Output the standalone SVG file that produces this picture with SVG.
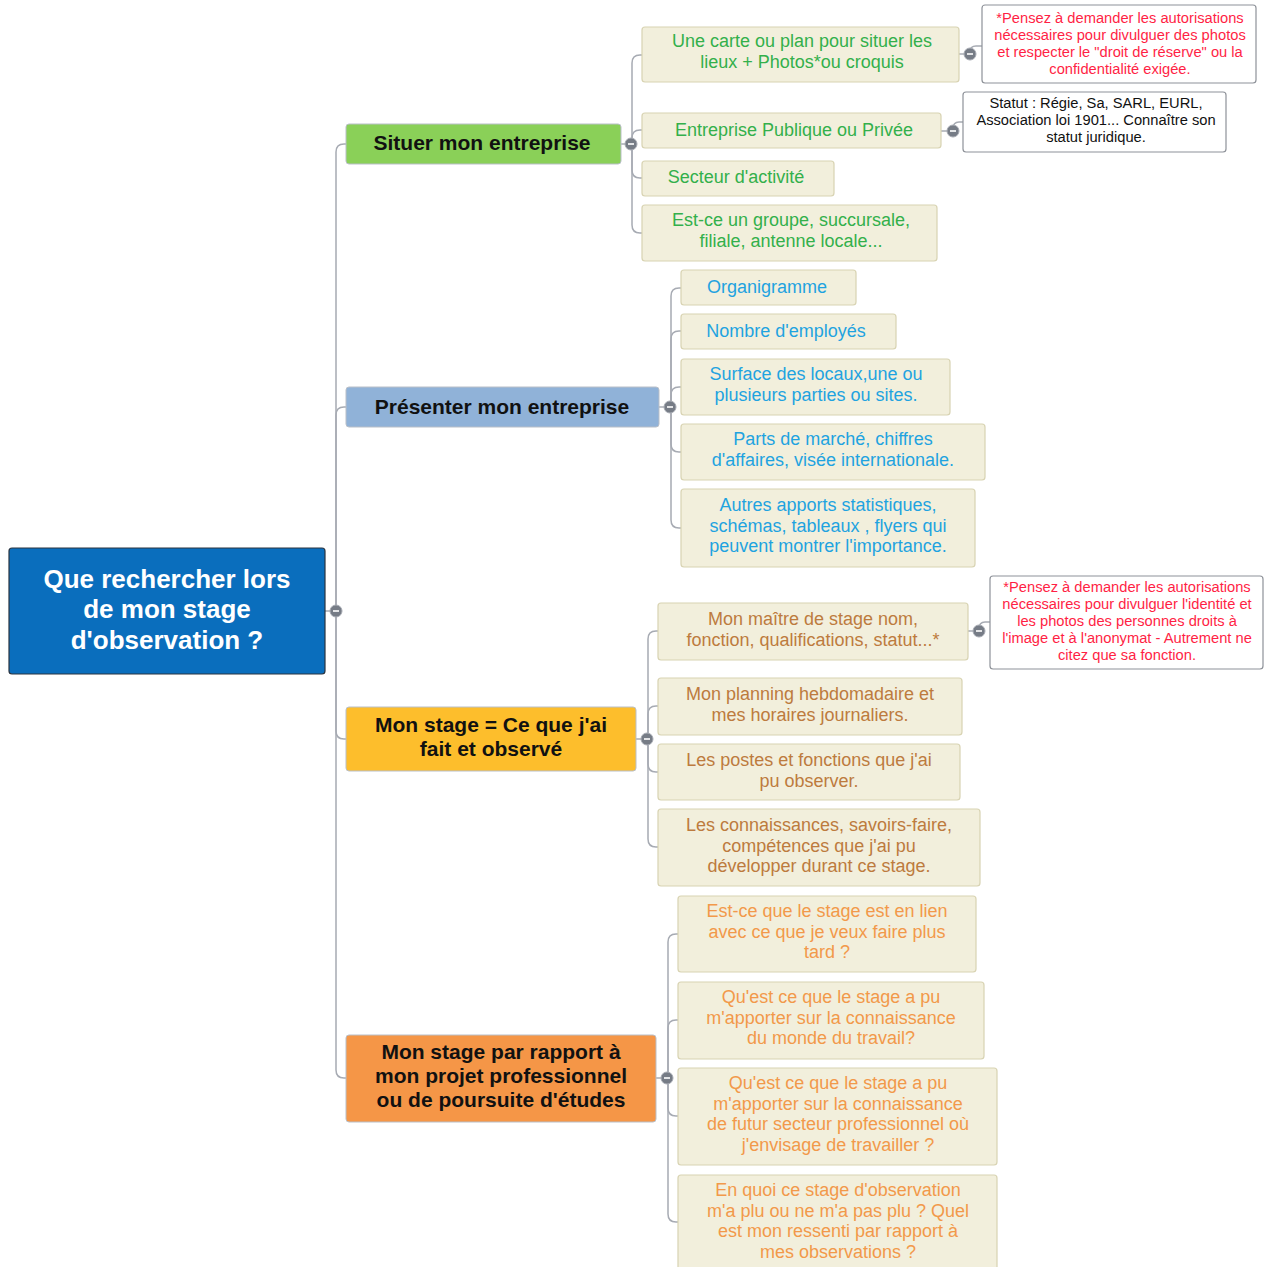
<svg xmlns="http://www.w3.org/2000/svg" width="1268" height="1267" viewBox="0 0 1268 1267">
<style>
.bg{fill:#ffffff}
.conn path{fill:none;stroke:#A7ABB3;stroke-width:1.5}
.tog circle{fill:#767C86;stroke:#A7ABB3;stroke-width:1}
.tog line{stroke:#ffffff;stroke-width:1.6}
.root rect{fill:#0A6EBD;stroke:#2A3440;stroke-width:1.2}
.main rect{stroke:#B9BFC8;stroke-width:1}
.sub rect{fill:#F2EFDC;stroke:#D8D3B2;stroke-width:1.2}
.note rect{fill:#ffffff;stroke:#8E9299;stroke-width:1.2}
text{font-family:"Liberation Sans",Arial,sans-serif;text-anchor:middle}
.rt{fill:#ffffff;font-weight:bold;font-size:26px}
.mt{fill:#111111;font-weight:bold;font-size:21px}
.st{font-size:18px}
.g{fill:#33B04B}
.b{fill:#1FA3E0}
.br{fill:#BD7B3E}
.o{fill:#F2994A}
.nt{font-size:14.7px}
.red{fill:#FF1F45}
.blk{fill:#111111}
</style>
<rect class="bg" x="0" y="0" width="1268" height="1267"/>

<g id="connectors" class="conn">
<!-- root to main -->
<path d="M325,611 H336"/>
<path d="M336,611 V152 Q336,144 344,144 H346"/>
<path d="M336,611 V415 Q336,407 344,407 H346"/>
<path d="M336,611 V731 Q336,739 344,739 H346"/>
<path d="M336,611 V1070 Q336,1078 344,1078 H346"/>
<!-- Situer -->
<path d="M621,144 H632"/>
<path d="M632,144 V63 Q632,55 640,55 H642"/>
<path d="M632,144 V138 Q632,130 640,130 H642"/>
<path d="M632,144 V170 Q632,178 640,178 H642"/>
<path d="M632,144 V225 Q632,233 640,233 H642"/>
<path d="M959,54 H970"/>
<path d="M970,54 V52 Q970,46 976,46 H982"/>
<path d="M941,131 H953"/>
<path d="M953,131 V129 Q953,122 959,122 H963"/>
<!-- Présenter -->
<path d="M659,407 H671"/>
<path d="M671,407 V296 Q671,288 679,288 H681"/>
<path d="M671,407 V339 Q671,331 679,331 H681"/>
<path d="M671,407 V395 Q671,387 679,387 H681"/>
<path d="M671,407 V444 Q671,452 679,452 H681"/>
<path d="M671,407 V520 Q671,528 679,528 H681"/>
<!-- Mon stage -->
<path d="M636,739 H648"/>
<path d="M648,739 V639 Q648,631 656,631 H658"/>
<path d="M648,739 V714 Q648,706 656,706 H658"/>
<path d="M648,739 V764 Q648,772 656,772 H658"/>
<path d="M648,739 V839 Q648,847 656,847 H658"/>
<path d="M968,631 H979"/>
<path d="M979,631 V629 Q979,622 985,622 H990"/>
<!-- Mon stage par rapport -->
<path d="M656,1078 H668"/>
<path d="M668,1078 V942 Q668,934 676,934 H678"/>
<path d="M668,1078 V1028 Q668,1020 676,1020 H678"/>
<path d="M668,1078 V1108 Q668,1116 676,1116 H678"/>
<path d="M668,1078 V1214 Q668,1222 676,1222 H678"/>
</g>

<g id="root" class="root">
<rect x="9" y="548" width="316" height="126" rx="3"/>
<text class="rt" x="167" y="588">Que rechercher lors</text>
<text class="rt" x="167" y="618">de mon stage</text>
<text class="rt" x="167" y="649">d'observation ?</text>
</g>

<g id="situer" class="main">
<rect x="346" y="124" width="275" height="40" rx="3" fill="#8AD058"/>
<text class="mt" x="482" y="150">Situer mon entreprise</text>
</g>
<g id="presenter" class="main">
<rect x="346" y="387" width="313" height="40" rx="3" fill="#90B2D8"/>
<text class="mt" x="502" y="414">Présenter mon entreprise</text>
</g>
<g id="monstage" class="main">
<rect x="346" y="707" width="290" height="64" rx="3" fill="#FDBE2C"/>
<text class="mt" x="491" y="732">Mon stage = Ce que j'ai</text>
<text class="mt" x="491" y="756">fait et observé</text>
</g>
<g id="projet" class="main">
<rect x="346" y="1035" width="310" height="87" rx="3" fill="#F59647"/>
<text class="mt" x="501" y="1059">Mon stage par rapport à</text>
<text class="mt" x="501" y="1083">mon projet professionnel</text>
<text class="mt" x="501" y="1107">ou de poursuite d'études</text>
</g>

<!-- Situer children -->
<g id="carte" class="sub">
<rect x="642" y="27" width="317" height="55" rx="3"/>
<text class="st g" x="802" y="47">Une carte ou plan pour situer les</text>
<text class="st g" x="802" y="68">lieux + Photos*ou croquis</text>
</g>
<g id="note-photos" class="note">
<rect x="982" y="5" width="274" height="78" rx="3"/>
<text class="nt red" x="1120" y="23">*Pensez à demander les autorisations</text>
<text class="nt red" x="1120" y="40">nécessaires pour divulguer des photos</text>
<text class="nt red" x="1120" y="57">et respecter le "droit de réserve" ou la</text>
<text class="nt red" x="1120" y="74">confidentialité exigée.</text>
</g>
<g id="publique" class="sub">
<rect x="642" y="113" width="299" height="35" rx="3"/>
<text class="st g" x="794" y="136">Entreprise Publique ou Privée</text>
</g>
<g id="note-statut" class="note">
<rect x="963" y="92" width="263" height="60" rx="3"/>
<text class="nt blk" x="1096" y="108">Statut : Régie, Sa, SARL, EURL,</text>
<text class="nt blk" x="1096" y="125">Association loi 1901... Connaître son</text>
<text class="nt blk" x="1096" y="142">statut juridique.</text>
</g>
<g id="secteur" class="sub">
<rect x="642" y="161" width="192" height="35" rx="3"/>
<text class="st g" x="736" y="183">Secteur d'activité</text>
</g>
<g id="groupe" class="sub">
<rect x="642" y="205" width="295" height="56" rx="3"/>
<text class="st g" x="791" y="226">Est-ce un groupe, succursale,</text>
<text class="st g" x="791" y="247">filiale, antenne locale...</text>
</g>

<!-- Présenter children -->
<g id="organigramme" class="sub">
<rect x="681" y="270" width="175" height="35" rx="3"/>
<text class="st b" x="767" y="293">Organigramme</text>
</g>
<g id="employes" class="sub">
<rect x="681" y="314" width="215" height="35" rx="3"/>
<text class="st b" x="786" y="337">Nombre d'employés</text>
</g>
<g id="surface" class="sub">
<rect x="681" y="359" width="269" height="56" rx="3"/>
<text class="st b" x="816" y="380">Surface des locaux,une ou</text>
<text class="st b" x="816" y="401">plusieurs parties ou sites.</text>
</g>
<g id="parts" class="sub">
<rect x="681" y="424" width="304" height="56" rx="3"/>
<text class="st b" x="833" y="445">Parts de marché, chiffres</text>
<text class="st b" x="833" y="466">d'affaires, visée internationale.</text>
</g>
<g id="autres" class="sub">
<rect x="681" y="489" width="294" height="78" rx="3"/>
<text class="st b" x="828" y="511">Autres apports statistiques,</text>
<text class="st b" x="828" y="532">schémas, tableaux , flyers qui</text>
<text class="st b" x="828" y="552">peuvent montrer l'importance.</text>
</g>

<!-- Mon stage children -->
<g id="maitre" class="sub">
<rect x="658" y="603" width="310" height="57" rx="3"/>
<text class="st br" x="813" y="625">Mon maître de stage nom,</text>
<text class="st br" x="813" y="646">fonction, qualifications, statut...*</text>
</g>
<g id="note-identite" class="note">
<rect x="990" y="576" width="273" height="93" rx="3"/>
<text class="nt red" x="1127" y="592">*Pensez à demander les autorisations</text>
<text class="nt red" x="1127" y="609">nécessaires pour divulguer l'identité et</text>
<text class="nt red" x="1127" y="626">les photos des personnes droits à</text>
<text class="nt red" x="1127" y="643">l'image et à l'anonymat - Autrement ne</text>
<text class="nt red" x="1127" y="660">citez que sa fonction.</text>
</g>
<g id="planning" class="sub">
<rect x="658" y="678" width="304" height="57" rx="3"/>
<text class="st br" x="810" y="700">Mon planning hebdomadaire et</text>
<text class="st br" x="810" y="721">mes horaires journaliers.</text>
</g>
<g id="postes" class="sub">
<rect x="658" y="744" width="302" height="56" rx="3"/>
<text class="st br" x="809" y="766">Les postes et fonctions que j'ai</text>
<text class="st br" x="809" y="787">pu observer.</text>
</g>
<g id="connaissances" class="sub">
<rect x="658" y="809" width="322" height="77" rx="3"/>
<text class="st br" x="819" y="831">Les connaissances, savoirs-faire,</text>
<text class="st br" x="819" y="852">compétences que j'ai pu</text>
<text class="st br" x="819" y="872">développer durant ce stage.</text>
</g>

<!-- Projet children -->
<g id="lien" class="sub">
<rect x="678" y="896" width="298" height="76" rx="3"/>
<text class="st o" x="827" y="917">Est-ce que le stage est en lien</text>
<text class="st o" x="827" y="938">avec ce que je veux faire plus</text>
<text class="st o" x="827" y="958">tard ?</text>
</g>
<g id="monde" class="sub">
<rect x="678" y="982" width="306" height="77" rx="3"/>
<text class="st o" x="831" y="1003">Qu'est ce que le stage a pu</text>
<text class="st o" x="831" y="1024">m'apporter sur la connaissance</text>
<text class="st o" x="831" y="1044">du monde du travail?</text>
</g>
<g id="secteur-pro" class="sub">
<rect x="678" y="1068" width="319" height="97" rx="3"/>
<text class="st o" x="838" y="1089">Qu'est ce que le stage a pu</text>
<text class="st o" x="838" y="1110">m'apporter sur la connaissance</text>
<text class="st o" x="838" y="1130">de futur secteur professionnel où</text>
<text class="st o" x="838" y="1151">j'envisage de travailler ?</text>
</g>
<g id="ressenti" class="sub">
<rect x="678" y="1175" width="319" height="100" rx="3"/>
<text class="st o" x="838" y="1196">En quoi ce stage d'observation</text>
<text class="st o" x="838" y="1217">m'a plu ou ne m'a pas plu ? Quel</text>
<text class="st o" x="838" y="1237">est mon ressenti par rapport à</text>
<text class="st o" x="838" y="1258">mes observations ?</text>
</g>

<g id="toggles" class="tog">
<g><circle cx="336" cy="611" r="6"/><line x1="333" y1="611" x2="339" y2="611"/></g>
<g><circle cx="631" cy="144" r="6"/><line x1="628" y1="144" x2="634" y2="144"/></g>
<g><circle cx="670" cy="407" r="6"/><line x1="667" y1="407" x2="673" y2="407"/></g>
<g><circle cx="647" cy="739" r="6"/><line x1="644" y1="739" x2="650" y2="739"/></g>
<g><circle cx="667" cy="1078" r="6"/><line x1="664" y1="1078" x2="670" y2="1078"/></g>
<g><circle cx="970" cy="54" r="6"/><line x1="967" y1="54" x2="973" y2="54"/></g>
<g><circle cx="953" cy="131" r="6"/><line x1="950" y1="131" x2="956" y2="131"/></g>
<g><circle cx="979" cy="631" r="6"/><line x1="976" y1="631" x2="982" y2="631"/></g>
</g>
</svg>
